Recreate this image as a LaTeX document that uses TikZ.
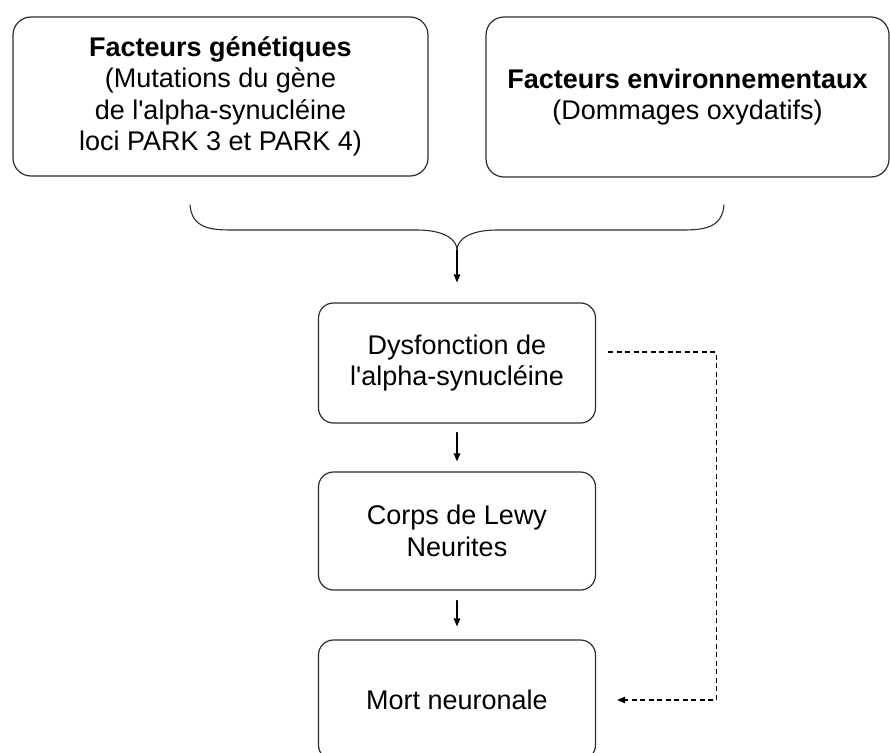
\documentclass[tikz,border=0pt]{standalone}
\usepackage{fontspec}
\setmainfont{Liberation Sans}
\usetikzlibrary{arrows.meta,calc}
\definecolor{cadregris}{RGB}{45,45,45}

\begin{document}
\begin{tikzpicture}[x=1pt,y=-1pt,>={Triangle[length=8pt,width=6.5pt]},line cap=round,line join=round,
 boite/.style={draw=cadregris,line width=1.2pt,rounded corners=18pt,align=center,inner sep=0pt,
  font=\fontsize{27}{31.5}\selectfont},
 fleche/.style={->,line width=1.1pt},
 pointille/.style={->,line width=1.1pt,line cap=butt,dash pattern=on 5pt off 3.5pt}]
\useasboundingbox (0,0) rectangle (890,752);
% facteurs en haut
\node[boite,minimum width=415pt,minimum height=159pt] (gen) at (220.5,96.5)
 {\textbf{Facteurs génétiques}\\(Mutations du gène\\de l\textquotesingle alpha-synucléine\\loci PARK 3 et PARK 4)};
\node[boite,minimum width=403pt,minimum height=160pt] (env) at (687.5,97)
 {\textbf{Facteurs environnementaux}\\(Dommages oxydatifs)};
% accolade qui réunit les deux
\draw[line width=1.1pt,cadregris] (190,205) .. controls (192,228) and (210,230) .. (232,230)
 -- (417,230) .. controls (445,230) and (457,240) .. (457,250)
 .. controls (457,240) and (469,230) .. (497,230) -- (682,230)
 .. controls (704,230) and (722,228) .. (724,205);
\coordinate (pointe) at (457,250);
% chaîne centrale
\node[boite,rounded corners=15pt,minimum width=277pt,minimum height=120pt] (dys) at (457,363)
 {Dysfonction de\\l\textquotesingle alpha-synucléine};
\node[boite,rounded corners=15pt,minimum width=277pt,minimum height=118pt] (corps) at (457,531)
 {Corps de Lewy\\Neurites};
\node[boite,rounded corners=15pt,minimum width=277pt,minimum height=120pt] (mort) at (457,700)
 {Mort neuronale};
\draw[fleche,shorten >=20pt] (pointe) -- (dys);
\draw[fleche,shorten <=9pt,shorten >=10pt] (dys) -- (corps);
\draw[fleche,shorten <=10pt,shorten >=13pt] (corps) -- (mort);
% lien direct en pointillés
\draw[pointille,shorten <=12pt,shorten >=21pt] ([yshift=11pt]dys.east) -- ++(120,0) |- (mort.east);
\end{tikzpicture}
\end{document}
